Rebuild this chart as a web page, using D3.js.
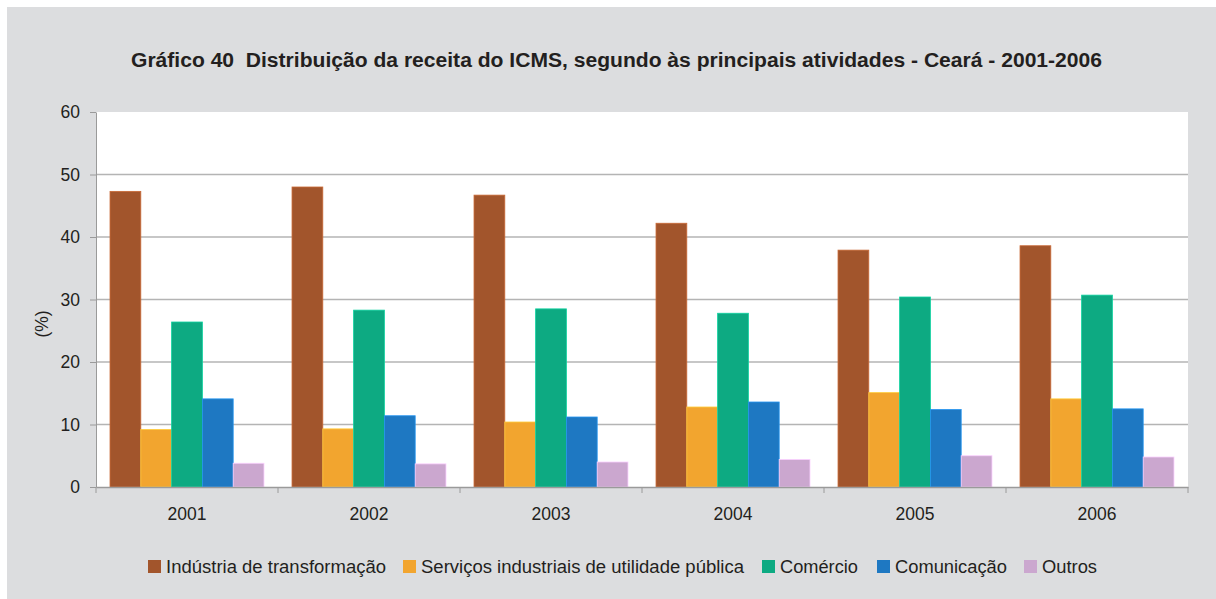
<!DOCTYPE html>
<html><head><meta charset="utf-8">
<script src="https://cdn.jsdelivr.net/npm/d3@7"></script>
<style>html,body{margin:0;padding:0;background:#fff;}svg{display:block;}</style>
</head><body>
<script>
const years = ["2001","2002","2003","2004","2005","2006"];
const seriesNames = ["Indústria de transformação","Serviços industriais de utilidade pública","Comércio","Comunicação","Outros"];
const industria = [47.3, 48.0, 46.7, 42.2, 37.9, 38.6];
const servicos  = [9.2, 9.3, 10.4, 12.8, 15.1, 14.1];
const comercio  = [26.4, 28.3, 28.5, 27.8, 30.4, 30.7];
const comunicacao = [14.1, 11.4, 11.2, 13.6, 12.4, 12.5];
const outros    = [3.8, 3.7, 4.0, 4.4, 5.0, 4.8];
const yTicks = [0,10,20,30,40,50,60];
const colors = ["#a2552c","#f2a52f","#0daa82","#1e78c2","#cba7cf"];
const title = "Gráfico 40  Distribuição da receita do ICMS, segundo às principais atividades - Ceará - 2001-2006";

(function(){
const seriesValues = [industria, servicos, comercio, comunicacao, outros];
const W = 1216, H = 599;
const mLeft = 96, mRight = 1188, mTop = 112, mBottom = 487;
const font = "'Liberation Sans', Arial, Helvetica, sans-serif";
const ink = "#231f20";

const svg = d3.select("body").append("svg").attr("width", W).attr("height", H);
svg.append("rect").attr("x",7).attr("y",7).attr("width",W-7).attr("height",H-7).attr("fill","#dcdddf");
svg.append("rect").attr("x",mLeft).attr("y",mTop).attr("width",mRight-mLeft).attr("height",mBottom-mTop).attr("fill","#fff");

const x0 = d3.scaleBand().domain(years).range([mLeft,mRight]).paddingInner(0.154).paddingOuter(0.077);
const x1 = d3.scaleBand().domain(seriesNames).range([0,x0.bandwidth()]);
const y = d3.scaleLinear().domain([0,60]).range([mBottom,mTop]);

// gridlines
svg.append("g").selectAll("line").data(yTicks.filter(t=>t>0 && t<60)).join("line")
  .attr("x1",mLeft).attr("x2",mRight).attr("y1",d=>y(d)).attr("y2",d=>y(d))
  .attr("stroke","#b4b4b4").attr("stroke-width",1.3);

// bars
const groups = svg.append("g").selectAll("g").data(years).join("g")
  .attr("transform",d=>`translate(${x0(d)},0)`);
groups.selectAll("rect").data((yr,i)=>seriesNames.map((s,k)=>({s,k,v:seriesValues[k][i]}))).join("rect")
  .attr("x",d=>x1(d.s)).attr("width",x1.bandwidth())
  .attr("y",d=>y(d.v)).attr("height",d=>y(0)-y(d.v))
  .attr("fill",d=>colors[d.k])
  .attr("stroke",d=>d3.color(colors[d.k]).brighter(0.6)).attr("stroke-width",0.8);

// y axis
const yAxis = d3.axisLeft(y).tickValues(yTicks).tickSize(6).tickPadding(10).tickSizeOuter(0);
const ga = svg.append("g").attr("transform",`translate(${mLeft},0)`).call(yAxis);
ga.select(".domain").attr("stroke","#9a9a9a");
ga.selectAll(".tick line").attr("stroke","#9a9a9a");
ga.selectAll("text").attr("font-family",font).attr("font-size",17.5).attr("fill",ink);

// x axis
const xAxis = d3.axisBottom(x0).tickSize(0).tickPadding(21).tickSizeOuter(0);
const gx = svg.append("g").attr("transform",`translate(0,${mBottom})`).call(xAxis);
gx.select(".domain").attr("stroke","#9a9a9a").attr("stroke-width",1.3);
gx.selectAll("text").attr("font-family",font).attr("font-size",17.5).attr("fill",ink);
const bounds = years.map(d=>x0(d)-x0.step()*x0.paddingInner()/2).concat([mRight]);
gx.selectAll(".bt").data(bounds).join("line").attr("class","bt")
  .attr("x1",d=>d).attr("x2",d=>d).attr("y1",0).attr("y2",6).attr("stroke","#9a9a9a");

// y label
svg.append("text").attr("transform","translate(48,324) rotate(-90)")
  .attr("text-anchor","middle").attr("font-family",font).attr("font-size",17.5).attr("fill",ink).text("(%)");

// title
svg.append("text").attr("x",131).attr("y",67)
  .attr("font-family",font).attr("font-size",19.5).attr("font-weight","bold").attr("fill",ink)
  .style("white-space","pre")
  .attr("textLength",971).attr("lengthAdjust","spacingAndGlyphs").text(title);

// legend
const legendX = [148, 403, 762, 877, 1024];
const legendW = [220, 323, 78, 112, 55];
const lg = svg.append("g").selectAll("g").data(seriesNames).join("g")
  .attr("transform",(d,i)=>`translate(${legendX[i]},560)`);
lg.append("rect").attr("width",13).attr("height",13).attr("fill",(d,i)=>colors[i]);
lg.append("text").attr("x",18).attr("y",13).attr("font-family",font).attr("font-size",17.5).attr("fill",ink)
  .attr("textLength",(d,i)=>legendW[i]).attr("lengthAdjust","spacingAndGlyphs").text(d=>d);
})();
</script>
</body></html>
